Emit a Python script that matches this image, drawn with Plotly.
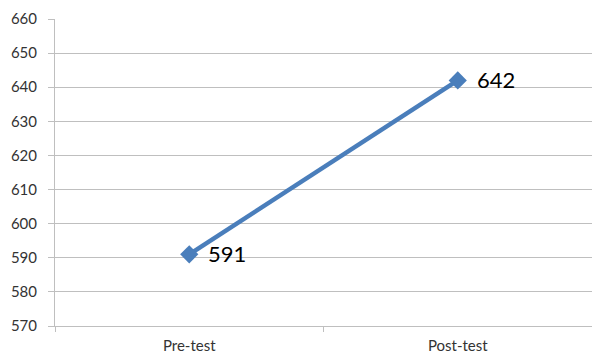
import plotly.graph_objects as go

# Test results
categories = ["Pre-test", "Post-test"]
scores = [591, 642]
y_ticks = list(range(570, 661, 10))

line_color = "#4A7EBB"
grid_color = "#BFBFBF"

fig = go.Figure()
fig.add_trace(go.Scatter(
    x=categories,
    y=scores,
    mode="lines+markers",
    line=dict(color=line_color, width=4.5),
    marker=dict(symbol="diamond", size=14, color=line_color),
    hoverinfo="skip",
))

# Value labels to the right of each point
for c, v in zip(categories, scores):
    fig.add_annotation(
        x=c, y=v, text=str(v), showarrow=False,
        xanchor="left", yanchor="middle", xshift=17, yshift=1,
        font=dict(family="Lato", size=22, color="#000000"),
    )

fig.update_layout(
    width=592, height=353,
    margin=dict(l=55, r=0, t=19, b=27),
    paper_bgcolor="white", plot_bgcolor="white",
    showlegend=False,
    font=dict(family="Lato", size=15, color="#404040"),
)
fig.update_xaxes(
    type="category",
    range=[-0.5, 1.5],
    tickson="boundaries",
    ticks="outside", ticklen=5, tickcolor=grid_color,
    showline=True, linecolor=grid_color, linewidth=1,
    showgrid=False,
    ticklabelstandoff=6,
    tickfont=dict(family="Lato", size=15, color="#333333"),
)
fig.update_yaxes(
    range=[570, 660],
    tickvals=y_ticks,
    ticks="outside", ticklen=6, tickcolor=grid_color,
    showline=True, linecolor=grid_color, linewidth=1,
    showgrid=True, gridcolor=grid_color, gridwidth=1,
    zeroline=False,
    ticklabelstandoff=8,
    tickfont=dict(family="Lato", size=15, color="#333333"),
)

fig.write_html("out.html")
